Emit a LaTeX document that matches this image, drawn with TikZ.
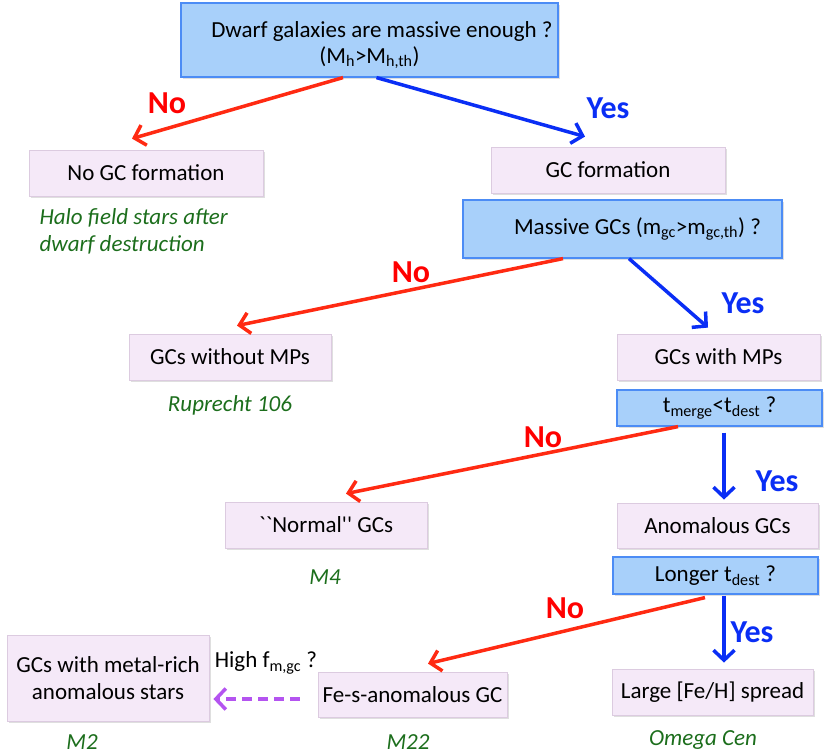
\documentclass[tikz,border=0pt]{standalone}
\usepackage{fontspec}
\setmainfont{Carlito}
\newfontfamily\rawfont{Carlito}[Ligatures=TeXOff]
\usetikzlibrary{arrows.meta,shadows}

\definecolor{pinkfill}{HTML}{F5E9F8}
\definecolor{pinkline}{HTML}{DCCBE0}
\definecolor{bluefill}{HTML}{A8D0FA}
\definecolor{blueline}{HTML}{4C8CF5}
\definecolor{noline}{HTML}{FF2A12}
\definecolor{yesline}{HTML}{0A2EF5}
\definecolor{exgreen}{HTML}{1C6E1C}
\definecolor{askline}{HTML}{B454F0}

\begin{document}
\begin{tikzpicture}[x=1pt,y=-1pt]
        \tikzstyle{result}=[draw=pinkline, fill=pinkfill, line width=0.8pt, inner sep=0pt, align=center,
                drop shadow={shadow xshift=1.5pt, shadow yshift=-2pt, opacity=0.25},
                font=\fontsize{23}{27}\selectfont]
        \tikzstyle{question}=[draw=blueline, fill=bluefill, line width=1.2pt, inner sep=0pt, align=center,
                drop shadow={shadow xshift=1.5pt, shadow yshift=-2pt, opacity=0.25},
                font=\fontsize{23}{29}\selectfont]
        \tikzstyle{example}=[text=exgreen, font=\fontsize{23}{27}\selectfont\itshape]
        \tikzstyle{nolabel}=[text=red, font=\fontsize{32}{32}\selectfont\bfseries]
        \tikzstyle{yeslabel}=[text=yesline, font=\fontsize{32}{32}\selectfont\bfseries]
        \tikzstyle{noarrow}=[draw=noline, line width=3.5pt, -{Straight Barb[length=10pt, width=21pt]}]
        \tikzstyle{yesarrow}=[draw=yesline, line width=3.5pt, -{Straight Barb[length=10pt, width=21pt]}]
        \tikzstyle{askarrow}=[draw=askline, line width=3.5pt, dash pattern=on 10pt off 6pt, -{Straight Barb[length=10pt, width=21pt]}]

        \useasboundingbox (0,0) rectangle (830,754);

        % questions
        \node[question, minimum width=377pt, minimum height=74pt] (dwarf) at (369.5,40)
                {\rule{0pt}{26pt}\hspace*{25pt}Dwarf galaxies are massive enough ?\\[-3pt](M\textsubscript{h}>M\textsubscript{h,th})};
        \node[question, minimum width=319pt, minimum height=58pt] (massive) at (622.5,229)
                {\hspace*{30pt}Massive GCs (m\textsubscript{gc}>m\textsubscript{gc,th}) ?};
        \node[question, minimum width=205pt, minimum height=36pt] (tmerge) at (719.5,408) {t\textsubscript{merge}<t\textsubscript{dest} ?};
        \node[question, minimum width=205pt, minimum height=37pt] (longer) at (715.5,575.5) {Longer t\textsubscript{dest} ?};

        % outcomes
        \node[result, minimum width=234pt, minimum height=46pt] (nogc) at (146,173) {No GC formation};
        \node[result, minimum width=234pt, minimum height=46pt] (gcform) at (608,170) {GC formation};
        \node[result, minimum width=202pt, minimum height=46pt] (without) at (230,357) {GCs without MPs};
        \node[result, minimum width=203pt, minimum height=46pt] (with) at (718.5,357) {GCs with MPs};
        \node[result, minimum width=202pt, minimum height=46pt] (normal) at (326,525) {\rawfont ``Normal'' GCs};
        \node[result, minimum width=201pt, minimum height=45pt] (anomalous) at (717.5,525.5) {Anomalous GCs};
        \node[result, minimum width=202pt, minimum height=86pt] (metalrich) at (108,678) {GCs with metal-rich\\anomalous stars};
        \node[result, minimum width=189pt, minimum height=45pt] (fes) at (412.5,694.5) {Fe-s-anomalous GC};
        \node[result, minimum width=201pt, minimum height=46pt] (spread) at (712.5,692) {Large [Fe/H] spread};

        % examples
        \node[example, anchor=west, align=left] (haloex) at (36,231) {Halo field stars after\\dwarf destruction};
        \node[example] (rupex) at (230,405) {Ruprecht 106};
        \node[example] (mfourex) at (325,577) {M4};
        \node[example] (mtwoex) at (82,742) {M2};
        \node[example] (mtwotwoex) at (408,742) {M22};
        \node[example] (omegaex) at (703,740) {Omega Cen};

        % answers
        \draw[noarrow] ([xshift=-26.5pt]dwarf.south) -- ([xshift=-14pt,yshift=11pt]nogc.north);
        \draw[yesarrow] ([xshift=7pt]dwarf.south) -- ([xshift=-23pt,yshift=10pt]gcform.north);
        \draw[noarrow] ([xshift=-59.5pt]massive.south) -- ([xshift=7pt,yshift=8pt]without.north);
        \draw[yesarrow] ([xshift=6.5pt]massive.south) -- ([xshift=-10.5pt,yshift=6pt]with.north);
        \draw[noarrow] ([xshift=-41.5pt]tmerge.south) -- ([xshift=20pt,yshift=8pt]normal.north);
        \draw[yesarrow] ([xshift=4.5pt,yshift=-6pt]tmerge.south) -- ([xshift=6.5pt,yshift=3pt]anomalous.north);
        \draw[noarrow] ([xshift=-10.5pt,yshift=-3pt]longer.south) -- ([xshift=15.5pt,yshift=8pt]fes.north);
        \draw[yesarrow] ([xshift=8.5pt,yshift=-1pt]longer.south) -- ([xshift=11.5pt,yshift=6pt]spread.north);
        \draw[askarrow] ([xshift=-18pt,yshift=-4.5pt]fes.west) -- ([xshift=4pt,yshift=-21pt]metalrich.east);

        \node[nolabel] (noone) at (167,103) {No};
        \node[yeslabel] (yesone) at (608,108) {Yes};
        \node[nolabel] (notwo) at (411,272) {No};
        \node[yeslabel] (yestwo) at (743,303) {Yes};
        \node[nolabel] (nothree) at (543,437) {No};
        \node[yeslabel] (yesthree) at (777,481) {Yes};
        \node[nolabel] (nofour) at (565,608) {No};
        \node[yeslabel] (yesfour) at (752,632) {Yes};
        \node (highf) at (266,663) {\fontsize{23}{23}\selectfont High f\textsubscript{m,gc} ?};
\end{tikzpicture}
\end{document}
